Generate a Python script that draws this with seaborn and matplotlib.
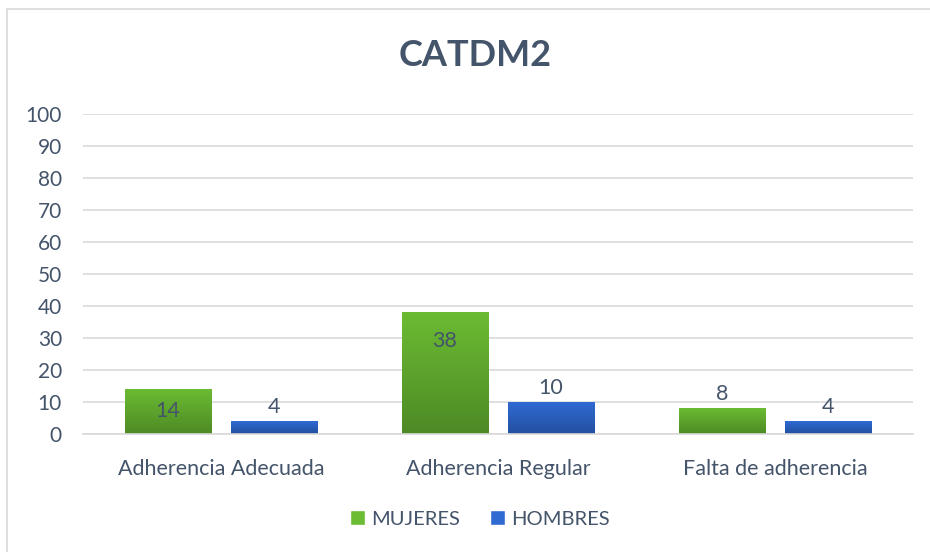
import numpy as np
import pandas as pd
import matplotlib
matplotlib.use("Agg")
import matplotlib.pyplot as plt
import seaborn as sns
from matplotlib.colors import LinearSegmentedColormap
from matplotlib.lines import Line2D

categories = ["Adherencia Adecuada", "Adherencia Regular", "Falta de adherencia"]
series_names = ["MUJERES", "HOMBRES"]
mujeres = [14, 38, 8]
hombres = [4, 10, 4]
yticks = [0, 10, 20, 30, 40, 50, 60, 70, 80, 90, 100]
title = "CATDM2"

df = pd.DataFrame({
    "cat": categories * 2,
    "serie": [series_names[0]] * 3 + [series_names[1]] * 3,
    "val": mujeres + hombres,
})

sns.set_theme(style="white")
plt.rcParams['font.family'] = ['Lato', 'DejaVu Sans']

text_col = "#44546A"
green_top, green_bot = "#6BBB33", "#4E8A25"
blue_top, blue_bot = "#2F6AD3", "#22509F"

fig = plt.figure(figsize=(9.3, 5.52), dpi=100)
fig.patch.set_facecolor("white")
ax = fig.add_axes([0.089, 0.214, 0.893, 0.579])

sns.barplot(data=df, x="cat", y="val", hue="serie", order=categories,
            hue_order=series_names, palette=[green_top, blue_top],
            width=0.766, gap=0.188, ax=ax, legend=True, saturation=1)

ax.set_ylim(0, 100)
ax.set_xlim(-0.5, 2.5)
ax.set_yticks(yticks)
ax.yaxis.grid(True, color="#D9D9D9", lw=1.2)
ax.set_axisbelow(True)
for s in ["top", "right", "left"]:
    ax.spines[s].set_visible(False)
ax.spines["bottom"].set_color("#D9D9D9")
ax.spines["bottom"].set_linewidth(1.2)
ax.set_xlabel("")
ax.set_ylabel("")
ax.tick_params(axis="x", length=0, labelsize=15.5, labelcolor=text_col, pad=18)
ax.tick_params(axis="y", length=0, labelsize=15, labelcolor=text_col, pad=15)

# gradients and labels
bars = [p for p in ax.patches if p.get_height() > 0]
for p in bars:
    x0, w, h = p.get_x(), p.get_width(), p.get_height()
    fc = matplotlib.colors.to_hex(p.get_facecolor())
    if fc.lower() == green_top.lower():
        cm = LinearSegmentedColormap.from_list("g", [green_bot, green_top])
    else:
        cm = LinearSegmentedColormap.from_list("b", [blue_bot, blue_top])
    grad = np.linspace(0, 1, 100).reshape(-1, 1)
    im = ax.imshow(grad, cmap=cm, origin="lower", aspect="auto",
                   extent=[x0, x0 + w, 0, h], zorder=p.get_zorder() + 0.1)
    im.set_clip_path(p)
    if h >= 12:
        ax.text(x0 + w / 2, h - 9 if h > 20 else h / 2, f"{h:g}", ha="center", va="center",
                fontsize=15.5, color=text_col, zorder=5)
    else:
        ax.text(x0 + w / 2, h + 1.2, f"{h:g}", ha="center", va="bottom",
                fontsize=15.5, color=text_col, zorder=5)

fig.text(475 / 930, 1 - 55 / 552, title, fontsize=26, fontweight="bold", color=text_col,
         ha="center", va="center")

leg = ax.legend(loc="center", bbox_to_anchor=(480 / 930, 1 - 519 / 552),
                bbox_transform=fig.transFigure, ncol=2, frameon=False,
                fontsize=14.5, handlelength=0.75, handleheight=0.75, columnspacing=1.5,
                handletextpad=0.3)
for t in leg.get_texts():
    t.set_color(text_col)

# chart-area border (left and top edges visible)
fig.add_artist(Line2D([7 / 930, 7 / 930], [0, 1 - 9 / 552], transform=fig.transFigure,
                      color="#D9D9D9", lw=1.2))
fig.add_artist(Line2D([7 / 930, 1], [1 - 9 / 552, 1 - 9 / 552], transform=fig.transFigure,
                      color="#D9D9D9", lw=1.2))

fig.savefig("out.png", dpi=100)
